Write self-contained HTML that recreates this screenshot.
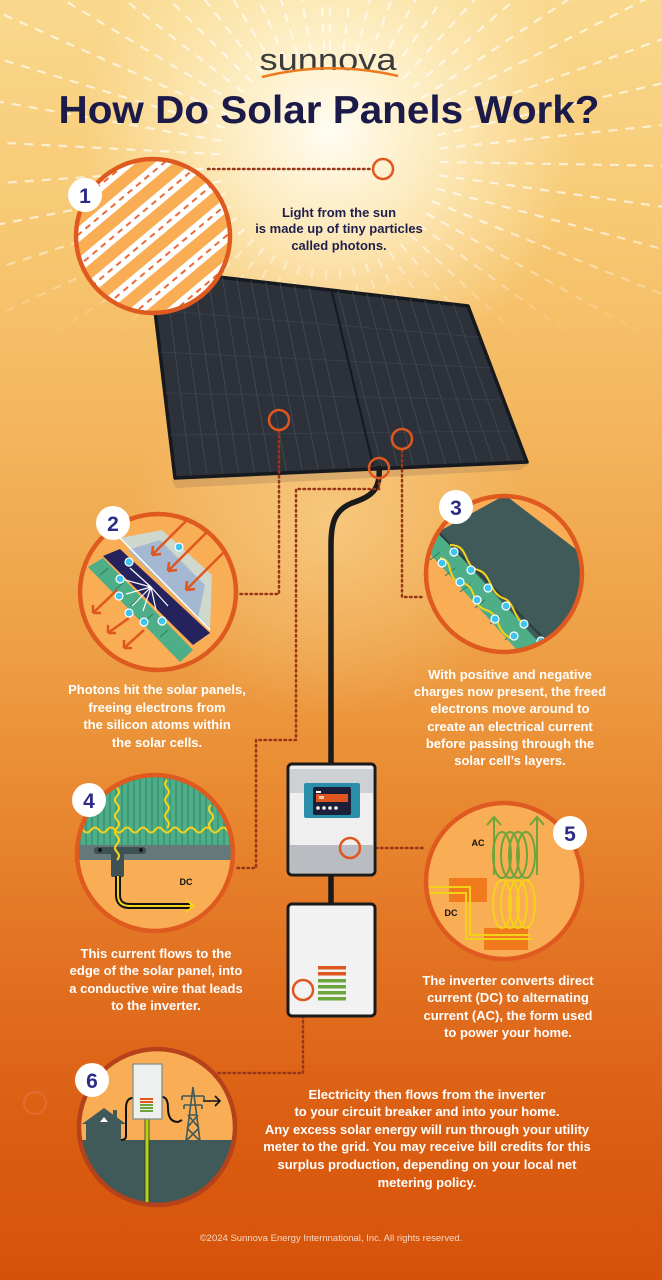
<!DOCTYPE html>
<html><head><meta charset="utf-8"><style>
html,body{margin:0;padding:0;width:662px;height:1280px;overflow:hidden}
body{background:linear-gradient(180deg,#f9d98e 0%,#f7c872 18%,#f3b35a 35%,#eea045 50%,#e98a32 62%,#e27222 75%,#db5e12 88%,#d6520a 100%);font-family:"Liberation Sans",sans-serif}
svg{position:absolute;left:0;top:0}
.t{font-family:"Liberation Sans",sans-serif;font-weight:bold;font-size:13px;text-anchor:middle;fill:#fff}
.n{font-family:"Liberation Sans",sans-serif;font-weight:bold;font-size:21px;text-anchor:middle;fill:#2d2b85}
.dot{fill:none;stroke:#9a3618;stroke-width:2.5;stroke-dasharray:1.5 3.5;stroke-linecap:round}
.sc{fill:none;stroke:#e0561f;stroke-width:2.5}
.ring{fill:none;stroke:#df5a1f;stroke-width:4.5}
</style></head><body>
<svg width="662" height="1280" viewBox="0 0 662 1280">
<defs>
<radialGradient id="glow" cx="330" cy="130" r="250" gradientUnits="userSpaceOnUse">
<stop offset="0" stop-color="#fffdf3" stop-opacity="1"/><stop offset="0.4" stop-color="#fff6d8" stop-opacity=".75"/><stop offset="1" stop-color="#fff2c8" stop-opacity="0"/></radialGradient>
<radialGradient id="glow2" cx="330" cy="520" r="200" gradientUnits="userSpaceOnUse">
<stop offset="0" stop-color="#f8d390" stop-opacity=".7"/><stop offset="1" stop-color="#f8d390" stop-opacity="0"/></radialGradient>
<linearGradient id="fade" x1="0" y1="0" x2="0" y2="1" gradientUnits="objectBoundingBox"><stop offset="0" stop-color="#fff"/><stop offset="0.55" stop-color="#fff"/><stop offset="0.85" stop-color="#000"/></linearGradient>
<mask id="rm"><rect x="0" y="0" width="662" height="400" fill="url(#fade)"/></mask>
<line id="ray" x1="330" y1="50" x2="330" y2="-260" stroke="#fff" stroke-width="2.2" stroke-dasharray="9 8" stroke-opacity=".65"/>
<clipPath id="c1"><circle cx="153" cy="236" r="77"/></clipPath>
<clipPath id="c2"><circle cx="158" cy="592" r="78"/></clipPath>
<clipPath id="c3"><circle cx="504" cy="574" r="78"/></clipPath>
<clipPath id="c4"><circle cx="155" cy="853" r="78"/></clipPath>
<clipPath id="c5"><circle cx="504" cy="881" r="78"/></clipPath>
<clipPath id="c6"><circle cx="157" cy="1127" r="78"/></clipPath>
</defs>
<rect width="662" height="700" fill="url(#glow)"/>
<rect y="300" width="662" height="500" fill="url(#glow2)"/>
<g mask="url(#rm)">
<use href="#ray" transform="rotate(0 330 160)"/><use href="#ray" transform="rotate(7 330 160)"/><use href="#ray" transform="rotate(14 330 160)"/><use href="#ray" transform="rotate(21 330 160)"/><use href="#ray" transform="rotate(28 330 160)"/><use href="#ray" transform="rotate(35 330 160)"/><use href="#ray" transform="rotate(42 330 160)"/><use href="#ray" transform="rotate(49 330 160)"/><use href="#ray" transform="rotate(56 330 160)"/><use href="#ray" transform="rotate(63 330 160)"/><use href="#ray" transform="rotate(70 330 160)"/><use href="#ray" transform="rotate(77 330 160)"/><use href="#ray" transform="rotate(84 330 160)"/><use href="#ray" transform="rotate(91 330 160)"/><use href="#ray" transform="rotate(98 330 160)"/><use href="#ray" transform="rotate(105 330 160)"/><use href="#ray" transform="rotate(112 330 160)"/><use href="#ray" transform="rotate(119 330 160)"/><use href="#ray" transform="rotate(126 330 160)"/><use href="#ray" transform="rotate(133 330 160)"/><use href="#ray" transform="rotate(140 330 160)"/><use href="#ray" transform="rotate(147 330 160)"/><use href="#ray" transform="rotate(154 330 160)"/><use href="#ray" transform="rotate(161 330 160)"/><use href="#ray" transform="rotate(168 330 160)"/><use href="#ray" transform="rotate(175 330 160)"/><use href="#ray" transform="rotate(182 330 160)"/><use href="#ray" transform="rotate(189 330 160)"/><use href="#ray" transform="rotate(196 330 160)"/><use href="#ray" transform="rotate(203 330 160)"/><use href="#ray" transform="rotate(210 330 160)"/><use href="#ray" transform="rotate(217 330 160)"/><use href="#ray" transform="rotate(224 330 160)"/><use href="#ray" transform="rotate(231 330 160)"/><use href="#ray" transform="rotate(238 330 160)"/><use href="#ray" transform="rotate(245 330 160)"/><use href="#ray" transform="rotate(252 330 160)"/><use href="#ray" transform="rotate(259 330 160)"/><use href="#ray" transform="rotate(266 330 160)"/><use href="#ray" transform="rotate(273 330 160)"/><use href="#ray" transform="rotate(280 330 160)"/><use href="#ray" transform="rotate(287 330 160)"/><use href="#ray" transform="rotate(294 330 160)"/><use href="#ray" transform="rotate(301 330 160)"/><use href="#ray" transform="rotate(308 330 160)"/><use href="#ray" transform="rotate(315 330 160)"/><use href="#ray" transform="rotate(322 330 160)"/><use href="#ray" transform="rotate(329 330 160)"/><use href="#ray" transform="rotate(336 330 160)"/><use href="#ray" transform="rotate(343 330 160)"/><use href="#ray" transform="rotate(350 330 160)"/><use href="#ray" transform="rotate(357 330 160)"/>
</g>

<!-- logo -->
<text x="328" y="70" font-family="Liberation Sans,sans-serif" font-size="31" fill="#3b3b3b" text-anchor="middle" textLength="137" lengthAdjust="spacingAndGlyphs">sunnova</text>
<path d="M262,77 Q330,60 398,76" fill="none" stroke="#ee7a1e" stroke-width="2.5"/>
<text x="329" y="123" font-family="Liberation Sans,sans-serif" font-weight="bold" font-size="39" fill="#1c1a48" text-anchor="middle" textLength="541" lengthAdjust="spacingAndGlyphs">How Do Solar Panels Work?</text>

<!-- panel -->
<polygon points="172,480 530,463 520,470 176,488" fill="#a8825a" opacity=".35"/>
<polygon points="150,269 468,306 527,462 175,478" fill="#2c313a" stroke="#16191e" stroke-width="3.5" stroke-linejoin="round"/>
<g stroke="#40474f" stroke-width="1">
<line x1="164.5" y1="270.7" x2="190.9" y2="475.3"/><line x1="178.9" y1="272.4" x2="206.8" y2="474.5"/><line x1="193.4" y1="274" x2="222.7" y2="473.8"/><line x1="207.8" y1="275.7" x2="238.6" y2="473.1"/><line x1="222.3" y1="277.4" x2="254.5" y2="472.4"/><line x1="236.7" y1="279.1" x2="270.5" y2="471.6"/><line x1="251.2" y1="280.8" x2="286.4" y2="470.9"/><line x1="265.6" y1="282.5" x2="302.3" y2="470.2"/><line x1="280.1" y1="284.1" x2="318.2" y2="469.5"/><line x1="294.5" y1="285.8" x2="334.1" y2="468.7"/><line x1="309" y1="287.5" x2="350" y2="468"/><line x1="337.9" y1="290.9" x2="381.8" y2="466.5"/><line x1="352.4" y1="292.5" x2="397.7" y2="465.8"/><line x1="366.8" y1="294.2" x2="413.6" y2="465.1"/><line x1="381.3" y1="295.9" x2="429.5" y2="464.4"/><line x1="395.7" y1="297.6" x2="445.5" y2="463.6"/><line x1="410.2" y1="299.3" x2="461.4" y2="462.9"/><line x1="424.6" y1="300.9" x2="477.3" y2="462.2"/><line x1="439.1" y1="302.6" x2="493.2" y2="461.5"/><line x1="453.5" y1="304.3" x2="509.1" y2="460.7"/>
<line x1="155" y1="310" x2="479" y2="337" stroke-opacity=".6"/><line x1="160" y1="352" x2="491" y2="368" stroke-opacity=".6"/><line x1="165" y1="393" x2="502" y2="400" stroke-opacity=".6"/><line x1="170" y1="435" x2="514" y2="431" stroke-opacity=".6"/>
</g>
<line x1="332" y1="292" x2="373" y2="465" stroke="#15181c" stroke-width="2"/>

<!-- cable -->
<path d="M379,466 C381,490 372,496 352,503 C335,510 331,522 331,545 L331,765 M331,875 L331,905" fill="none" stroke="#1a1a1a" stroke-width="5.5"/>

<!-- dotted connectors -->
<path class="dot" d="M208,169 L372,169"/>
<circle class="sc" cx="383" cy="169" r="10"/>
<path class="dot" d="M279,431 L279,594 L236,594"/>
<path class="dot" d="M379,478 L379,489 L296,489 L296,740 L256,740 L256,868 L234,868"/>
<path class="dot" d="M402,450 L402,597 L424,597"/>
<circle class="sc" cx="279" cy="420" r="10"/>
<circle class="sc" cx="402" cy="439" r="10"/>
<circle class="sc" cx="379" cy="468" r="10"/>
<path class="dot" d="M361,848 L426,848"/>
<path class="dot" d="M303,1001 L303,1073 L215,1073"/>
<circle cx="35" cy="1103" r="11" fill="none" stroke="#e77a52" stroke-width="2" opacity=".5"/>

<!-- inverter -->
<rect x="288" y="764" width="87" height="111" rx="4" fill="#efefef" stroke="#1a1a1a" stroke-width="3"/>
<rect x="290" y="769" width="83" height="24" fill="#cdd0d4"/>
<rect x="290" y="845" width="83" height="28" fill="#b9bcc1"/>
<rect x="304" y="783" width="56" height="35" rx="2" fill="#2a8ea8"/>
<rect x="313" y="787" width="38" height="28" rx="2" fill="#1c1f3a"/>
<rect x="316" y="791" width="5" height="2" fill="#fff"/>
<rect x="316" y="794" width="32" height="8" fill="#e0561f"/>
<rect x="319" y="796" width="5" height="3" fill="#f4c8b0"/>
<circle cx="318" cy="808" r="1.8" fill="#fff"/><circle cx="324" cy="808" r="1.8" fill="#fff"/><circle cx="330" cy="808" r="1.8" fill="#fff"/><circle cx="336" cy="808" r="1.8" fill="#fff"/>
<circle class="sc" cx="350" cy="848" r="10"/>
<rect x="288" y="904" width="87" height="112" rx="4" fill="#f2f2f2" stroke="#1a1a1a" stroke-width="3"/>
<rect x="318" y="966" width="28" height="3.5" fill="#e0561f"/><rect x="318" y="972" width="28" height="3.5" fill="#e0561f"/>
<rect x="318" y="979" width="28" height="3.5" fill="#6da43c"/><rect x="318" y="985" width="28" height="3.5" fill="#6da43c"/><rect x="318" y="991" width="28" height="3.5" fill="#6da43c"/><rect x="318" y="997" width="28" height="3.5" fill="#6da43c"/>
<circle class="sc" cx="303" cy="990" r="10" fill="#f2f2f2"/>

<!-- circle 1 -->
<g clip-path="url(#c1)">
<rect x="70" y="150" width="170" height="170" fill="#f9ad55"/>
<g transform="rotate(-40 153 236)">
<rect x="40" y="157" width="230" height="12" fill="#fff"/><rect x="40" y="181" width="230" height="12" fill="#fff"/><rect x="40" y="205" width="230" height="12" fill="#fff"/><rect x="40" y="229" width="230" height="12" fill="#fff"/><rect x="40" y="253" width="230" height="12" fill="#fff"/><rect x="40" y="277" width="230" height="12" fill="#fff"/><rect x="40" y="301" width="230" height="12" fill="#fff"/>
<g stroke="#ec6a3a" stroke-width="2" stroke-dasharray="6 5">
<line x1="40" y1="163" x2="270" y2="163"/><line x1="40" y1="187" x2="270" y2="187"/><line x1="40" y1="211" x2="270" y2="211"/><line x1="40" y1="235" x2="270" y2="235"/><line x1="40" y1="259" x2="270" y2="259"/><line x1="40" y1="283" x2="270" y2="283"/><line x1="40" y1="307" x2="270" y2="307"/>
</g></g></g>
<circle class="ring" cx="153" cy="236" r="77"/>

<!-- circle 2 -->
<g clip-path="url(#c2)">
<rect x="75" y="510" width="170" height="170" fill="#f9ad55"/>
<polygon points="88,567 103,558 193,650 180,662" fill="#4dae88"/>
<g stroke="#2f7d60" stroke-width="1"><line x1="100" y1="575" x2="108" y2="568"/><line x1="115" y1="590" x2="123" y2="583"/><line x1="130" y1="606" x2="138" y2="599"/><line x1="145" y1="621" x2="153" y2="614"/><line x1="160" y1="637" x2="168" y2="630"/></g>
<polygon points="120,538 162,530 212,575 210,630" fill="#cfd8cc"/>
<polygon points="128,550 160,540 205,585 198,618" fill="#a4b8d2"/>
<line x1="120" y1="538" x2="210" y2="630" stroke="#fff" stroke-width="1.5"/>
<polygon points="103,556 120,549 210,633 193,645" fill="#25225e"/>
<g stroke="#e0561f" stroke-width="2.5" fill="none">
<path d="M189,518 L152,555 M152,555 l9,-1 M152,555 l1,-9"/>
<path d="M206,533 L168,571 M168,571 l9,-1 M168,571 l1,-9"/>
<path d="M224,552 L186,590 M186,590 l9,-1 M186,590 l1,-9"/>
<path d="M117,590 L93,613 M93,613 l8,0 M93,613 l0,-8"/>
<path d="M129,618 L108,633 M108,633 l8,0 M108,633 l0,-8"/>
<path d="M144,630 L124,648 M124,648 l8,0 M124,648 l0,-8"/>
</g>
<g stroke="#fff" stroke-width="1.2"><line x1="151" y1="587" x2="130" y2="568"/><line x1="151" y1="587" x2="125" y2="580"/><line x1="151" y1="587" x2="126" y2="594"/><line x1="151" y1="587" x2="132" y2="606"/><line x1="151" y1="587" x2="143" y2="611"/><line x1="151" y1="587" x2="156" y2="610"/><line x1="151" y1="587" x2="168" y2="606"/></g>
<g fill="#3fc4f0" stroke="#fff" stroke-width="1.2">
<circle cx="179" cy="547" r="4"/><circle cx="129" cy="562" r="4"/><circle cx="120" cy="579" r="4"/><circle cx="119" cy="596" r="4"/><circle cx="129" cy="613" r="4"/><circle cx="144" cy="622" r="4"/><circle cx="162" cy="621" r="4"/></g>
</g>
<circle class="ring" cx="158" cy="592" r="78"/>

<!-- circle 3 -->
<g clip-path="url(#c3)">
<rect x="420" y="490" width="170" height="170" fill="#f9ad55"/>
<polygon points="422,545 438,532 560,650 535,670" fill="#4dae88"/>
<g stroke="#2f7d60" stroke-width="1"><line x1="430" y1="560" x2="440" y2="552"/><line x1="445" y1="576" x2="455" y2="568"/><line x1="460" y1="592" x2="470" y2="584"/><line x1="475" y1="608" x2="485" y2="600"/><line x1="490" y1="624" x2="500" y2="616"/><line x1="505" y1="640" x2="515" y2="632"/></g>
<polygon points="438,532 505,495 590,560 590,670 555,660" fill="#3f5a58"/>
<line x1="438" y1="532" x2="555" y2="650" stroke="#2a3e3d" stroke-width="2"/>
<g stroke="#f5d21a" stroke-width="2" fill="none">
<path d="M440,558 C455,560 445,580 462,583 C478,586 470,605 486,610 C500,614 495,630 510,638"/>
<path d="M450,545 C470,545 462,565 478,570 C492,574 488,592 503,598 C516,602 512,620 528,626"/>
</g>
<g fill="#3fc4f0" stroke="#fff" stroke-width="1.2">
<circle cx="454" cy="552" r="4"/><circle cx="442" cy="563" r="4"/><circle cx="471" cy="570" r="4"/><circle cx="460" cy="582" r="4"/><circle cx="488" cy="588" r="4"/><circle cx="477" cy="600" r="4"/><circle cx="506" cy="606" r="4"/><circle cx="495" cy="619" r="4"/><circle cx="524" cy="624" r="4"/><circle cx="514" cy="636" r="4"/><circle cx="541" cy="641" r="4"/></g>
</g>
<circle class="ring" cx="504" cy="574" r="78"/>

<!-- circle 4 -->
<g clip-path="url(#c4)">
<rect x="75" y="772" width="170" height="75" fill="#4dae88"/>
<g stroke="#3b9274" stroke-width="1.5">
<line x1="80" y1="772" x2="80" y2="846"/><line x1="86" y1="772" x2="86" y2="846"/><line x1="92" y1="772" x2="92" y2="846"/><line x1="98" y1="772" x2="98" y2="846"/><line x1="104" y1="772" x2="104" y2="846"/><line x1="110" y1="772" x2="110" y2="846"/><line x1="116" y1="772" x2="116" y2="846"/><line x1="122" y1="772" x2="122" y2="846"/><line x1="128" y1="772" x2="128" y2="846"/><line x1="134" y1="772" x2="134" y2="846"/><line x1="140" y1="772" x2="140" y2="846"/><line x1="146" y1="772" x2="146" y2="846"/><line x1="152" y1="772" x2="152" y2="846"/><line x1="158" y1="772" x2="158" y2="846"/><line x1="164" y1="772" x2="164" y2="846"/><line x1="170" y1="772" x2="170" y2="846"/><line x1="176" y1="772" x2="176" y2="846"/><line x1="182" y1="772" x2="182" y2="846"/><line x1="188" y1="772" x2="188" y2="846"/><line x1="194" y1="772" x2="194" y2="846"/><line x1="200" y1="772" x2="200" y2="846"/><line x1="206" y1="772" x2="206" y2="846"/><line x1="212" y1="772" x2="212" y2="846"/><line x1="218" y1="772" x2="218" y2="846"/><line x1="224" y1="772" x2="224" y2="846"/><line x1="230" y1="772" x2="230" y2="846"/></g>
<rect x="75" y="845" width="170" height="15" fill="#65787a"/>
<rect x="75" y="860" width="170" height="80" fill="#f9ad55"/>
<rect x="94" y="847" width="52" height="7" rx="3" fill="#3e5256"/>
<rect x="111" y="850" width="13" height="27" rx="2" fill="#3e5256"/>
<circle cx="100" cy="850" r="2" fill="#111"/><circle cx="141" cy="850" r="2" fill="#111"/>
<g stroke="#f5d21a" stroke-width="2" fill="none">
<path d="M75,830 q4,-5 8,0 t8,0 t8,0 t8,0 t8,0 t8,0 t8,0 t8,0 t8,0 t8,0 t8,0 t8,0 t8,0 t8,0 t8,0 t8,0 t8,0 t8,0 t8,0 t8,0"/>
<path d="M117,780 q-4,4 0,8 t0,8 t0,8 t0,8 t0,8 t0,8 t0,8 t0,8 t0,8 t0,8"/>
<path d="M167,780 q-4,4 0,8 t0,8 t0,8 t0,8 t0,8 t0,8"/>
<path d="M211,805 q-4,4 0,8 t0,8 t0,8"/>
</g>
<path d="M118,876 L118,895 Q118,906 130,906 L190,906" fill="none" stroke="#111" stroke-width="6"/>
<path d="M118,876 L118,895 Q118,906 130,906 L192,906" fill="none" stroke="#f5d21a" stroke-width="2"/>
<path d="M186,900 L194,906 L186,912" fill="none" stroke="#f5d21a" stroke-width="2"/>
<text x="186" y="885" font-family="Liberation Sans,sans-serif" font-weight="bold" font-size="9" fill="#111" text-anchor="middle">DC</text>
</g>
<circle class="ring" cx="155" cy="853" r="78"/>

<!-- circle 5 -->
<g clip-path="url(#c5)">
<rect x="420" y="798" width="170" height="170" fill="#f9ad55"/>
<rect x="449" y="878" width="38" height="24" fill="#f07a1c"/>
<rect x="484" y="928" width="44" height="22" fill="#f07a1c"/>
<g fill="none" stroke="#f5d21a" stroke-width="2">
<path d="M425,887 L470,887 L470,935 L530,935"/><path d="M425,893 L466,893 L466,939 L533,939"/>
<ellipse cx="502" cy="904" rx="9" ry="24"/><ellipse cx="510" cy="904" rx="9" ry="24"/><ellipse cx="518" cy="904" rx="9" ry="24"/><ellipse cx="526" cy="904" rx="9" ry="24"/>
</g>
<g fill="none" stroke="#6da43c" stroke-width="2">
<ellipse cx="502" cy="855" rx="9" ry="23"/><ellipse cx="510" cy="855" rx="9" ry="23"/><ellipse cx="518" cy="855" rx="9" ry="23"/><ellipse cx="526" cy="855" rx="9" ry="23"/>
<path d="M494,875 L494,818 M487,825 L494,817 L501,825"/><path d="M537,875 L537,818 M530,825 L537,817 L544,825"/>
</g>
<text x="478" y="846" font-family="Liberation Sans,sans-serif" font-weight="bold" font-size="9" fill="#111" text-anchor="middle">AC</text>
<text x="451" y="916" font-family="Liberation Sans,sans-serif" font-weight="bold" font-size="9" fill="#111" text-anchor="middle">DC</text>
</g>
<circle class="ring" cx="504" cy="881" r="78"/>

<!-- circle 6 -->
<g clip-path="url(#c6)">
<rect x="75" y="1045" width="170" height="170" fill="#f9ad55"/>
<rect x="75" y="1140" width="170" height="80" fill="#3f5a58"/>
<polygon points="82,1124 104,1108 126,1124 121,1124 121,1142 86,1142 86,1124" fill="#3f5a58"/>
<rect x="113" y="1110" width="4" height="8" fill="#3f5a58"/>
<path d="M100,1122 L108,1122 L104,1117 Z" fill="#fff"/>
<path d="M133,1098 Q126,1098 126,1108 L126,1136 Q126,1140 121,1140" fill="none" stroke="#111" stroke-width="2"/>
<path d="M162,1097 Q168,1097 168,1108 Q168,1122 178,1122 L182,1120" fill="none" stroke="#111" stroke-width="2"/>
<rect x="145" y="1118" width="4" height="90" fill="#b8d020" stroke="#2a3a1a" stroke-width=".8"/>
<rect x="133" y="1064" width="29" height="55" fill="#eef0f0" stroke="#7a8a8a" stroke-width="1.2"/>
<rect x="140" y="1098" width="13" height="2" fill="#e0561f"/><rect x="140" y="1101" width="13" height="2" fill="#e0561f"/>
<rect x="140" y="1104" width="13" height="2" fill="#6da43c"/><rect x="140" y="1107" width="13" height="2" fill="#6da43c"/><rect x="140" y="1110" width="13" height="2" fill="#6da43c"/>
<g stroke="#3f5a58" stroke-width="1.6" fill="none">
<path d="M193,1087 L186,1141 M193,1087 L200,1141 M182,1096 L204,1096 M184,1105 L202,1105 M189,1115 L197,1115 M188,1115 L199,1128 M198,1115 L187,1128 M187,1128 L200,1141 M199,1128 L186,1141 M182,1096 L182,1100 M204,1096 L204,1100 M184,1105 L184,1109 M202,1105 L202,1109"/>
</g>
<path d="M203,1101 L220,1101 M215,1096 L220,1101 L215,1106" fill="none" stroke="#111" stroke-width="1.6"/>
</g>
<circle cx="157" cy="1127" r="78" fill="none" stroke="#b5421a" stroke-width="4.5"/>

<!-- badges -->
<circle cx="85" cy="195" r="17" fill="#fff"/><text class="n" x="85" y="203">1</text>
<circle cx="113" cy="523" r="17" fill="#fff"/><text class="n" x="113" y="531">2</text>
<circle cx="456" cy="507" r="17" fill="#fff"/><text class="n" x="456" y="515">3</text>
<circle cx="89" cy="800" r="17" fill="#fff"/><text class="n" x="89" y="808">4</text>
<circle cx="570" cy="833" r="17" fill="#fff"/><text class="n" x="570" y="841">5</text>
<circle cx="92" cy="1080" r="17" fill="#fff"/><text class="n" x="92" y="1088">6</text>

<!-- texts -->
<text class="t" x="339" y="217" style="fill:#1f1f4d">Light from the sun</text>
<text class="t" x="339" y="233" style="fill:#1f1f4d">is made up of tiny particles</text>
<text class="t" x="339" y="250" style="fill:#1f1f4d">called photons.</text>
<text class="t" x="157" y="694">Photons hit the solar panels,</text>
<text class="t" x="157" y="712">freeing electrons from</text>
<text class="t" x="157" y="729">the silicon atoms within</text>
<text class="t" x="157" y="747">the solar cells.</text>
<text class="t" x="510" y="679">With positive and negative</text>
<text class="t" x="510" y="696">charges now present, the freed</text>
<text class="t" x="510" y="713">electrons move around to</text>
<text class="t" x="510" y="731">create an electrical current</text>
<text class="t" x="510" y="748">before passing through the</text>
<text class="t" x="510" y="765">solar cell’s layers.</text>
<text class="t" x="156" y="958">This current flows to the</text>
<text class="t" x="156" y="975">edge of the solar panel, into</text>
<text class="t" x="156" y="993">a conductive wire that leads</text>
<text class="t" x="156" y="1010">to the inverter.</text>
<text class="t" x="508" y="985">The inverter converts direct</text>
<text class="t" x="508" y="1002">current (DC) to alternating</text>
<text class="t" x="508" y="1020">current (AC), the form used</text>
<text class="t" x="508" y="1037">to power your home.</text>
<text class="t" x="427" y="1099">Electricity then flows from the inverter</text>
<text class="t" x="427" y="1116">to your circuit breaker and into your home.</text>
<text class="t" x="427" y="1134">Any excess solar energy will run through your utility</text>
<text class="t" x="427" y="1151">meter to the grid. You may receive bill credits for this</text>
<text class="t" x="427" y="1169">surplus production, depending on your local net</text>
<text class="t" x="427" y="1187">metering policy.</text>
<text x="331" y="1241" font-family="Liberation Sans,sans-serif" font-size="9.5" fill="#f6d8c4" text-anchor="middle">©2024 Sunnova Energy Internnational, Inc. All rights reserved.</text>
</svg>
</body></html>
